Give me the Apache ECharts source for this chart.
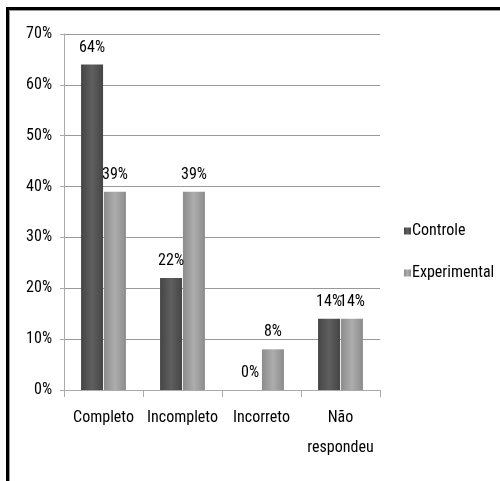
<!DOCTYPE html>
<html>
<head>
<meta charset="utf-8">
<script src="https://cdn.jsdelivr.net/npm/echarts@6/dist/echarts.min.js"></script>
<style>
  html, body { margin: 0; padding: 0; background: #fff; }
  .frame {
    position: absolute; left: 6px; top: 7px; width: 494px; height: 474px;
    border-top: 3px solid #000; border-left: 3px solid #000;
    box-shadow: inset 1px 1px 0 #999;
  }
  #chart { position: absolute; left: 0; top: 0; width: 500px; height: 481px; }
</style>
</head>
<body>
<div class="frame"></div>
<div id="chart"></div>
<script>
// categorias e valores (%)
const categories = ['Completo', 'Incompleto', 'Incorreto', 'Não\nrespondeu']
const controle = [64, 22, 0, 14]
const experimental = [39, 39, 8, 14]

const fontFamily = "'Roboto Condensed', 'Liberation Sans', sans-serif"

// gradiente horizontal para imitar o bisel das barras
function barColor (edge, mid) {
  return new echarts.graphic.LinearGradient(0, 0, 1, 0, [
    { offset: 0, color: edge },
    { offset: 0.5, color: mid },
    { offset: 1, color: edge }
  ])
}

const labelStyle = {
  show: true,
  position: 'top',
  distance: 9,
  formatter: '{c}%',
  color: '#000',
  fontSize: 16,
  fontFamily: fontFamily
}

const chart = echarts.init(document.getElementById('chart'))
chart.setOption({
  animation: false,
  textStyle: { fontFamily: fontFamily },
  grid: { left: 64, right: 120, top: 34, bottom: 91 },
  legend: {
    orient: 'vertical',
    left: 399,
    top: 218,
    itemWidth: 7,
    itemHeight: 7,
    itemGap: 26,
    icon: 'rect',
    textStyle: { fontSize: 16, color: '#000', fontFamily: fontFamily, padding: [0, 0, 0, -4] },
    data: ['Controle', 'Experimental']
  },
  xAxis: {
    type: 'category',
    data: categories,
    axisLine: { lineStyle: { color: '#aaa' } },
    axisTick: { show: true, length: 7, lineStyle: { color: '#aaa' } },
    axisLabel: { interval: 0, color: '#000', fontSize: 16, margin: 13, lineHeight: 30, fontFamily: fontFamily }
  },
  yAxis: {
    type: 'value',
    min: 0,
    max: 70,
    interval: 10,
    axisLine: { show: true, lineStyle: { color: '#aaa' } },
    axisTick: { show: true, length: 4, lineStyle: { color: '#aaa' } },
    axisLabel: { color: '#000', fontSize: 16, margin: 12, formatter: '{value}%', fontFamily: fontFamily },
    splitLine: { lineStyle: { color: '#999', width: 1 } }
  },
  series: [
    {
      name: 'Controle',
      type: 'bar',
      data: controle,
      barWidth: 22,
      barGap: '4%',
      itemStyle: { color: barColor('#454545', '#5f5f5f') },
      label: labelStyle
    },
    {
      name: 'Experimental',
      type: 'bar',
      data: experimental,
      barWidth: 22,
      itemStyle: { color: barColor('#8c8c8c', '#adadad') },
      label: labelStyle
    }
  ]
})
</script>
</body>
</html>
